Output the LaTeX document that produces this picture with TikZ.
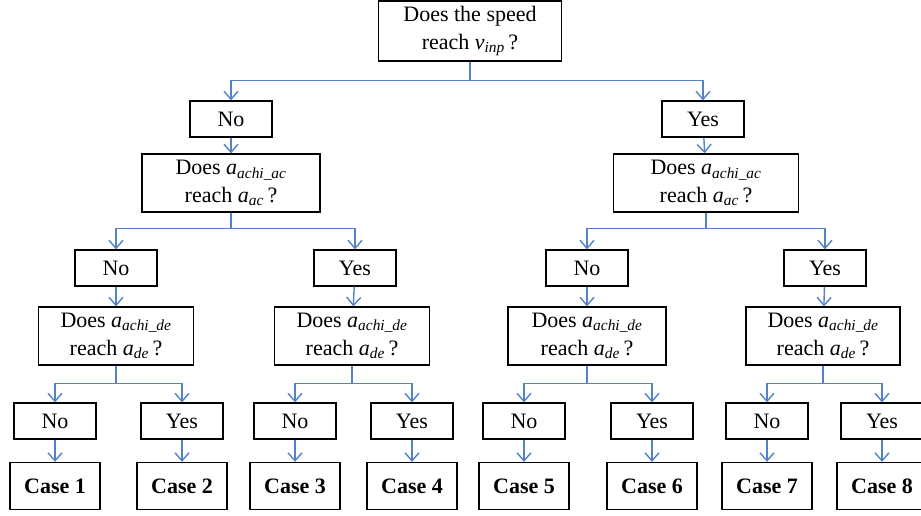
\documentclass[tikz,border=0pt]{standalone}
\usepackage{fontspec}
\setmainfont{Liberation Serif}
\usetikzlibrary{arrows.meta}
\definecolor{linkblue}{RGB}{84,130,200}
\newcommand{\sym}[2]{\textit{#1}\textsubscript{\textit{#2}}}
\begin{document}
\begin{tikzpicture}[x=1pt,y=-1pt,
        box/.style={draw,line width=1.3pt,align=center,inner sep=0pt,
            font=\fontsize{22}{28}\selectfont},
        qbox/.style={box,minimum width=#1,minimum height=58pt},
        abox/.style={box,minimum width=82pt,minimum height=36pt},
        cbox/.style={box,minimum width=90pt,minimum height=47pt,font=\fontsize{22}{28}\selectfont\bfseries},
        link/.style={linkblue,line width=1.4pt},
        tip/.style={link,-{Straight Barb[length=8pt,width=14pt,line width=1.4pt]}}]
    \useasboundingbox (0,0) rectangle (921,515);
    % root
    \node[qbox=183pt,minimum height=60pt] (q0) at (470,31) {Does the speed\\reach \sym{v}{inp}\,?};
    \node[abox] (a-n) at (231,119) {No};
    \node[abox] (a-y) at (703,119) {Yes};
    \draw[link] (q0.south) -- ++(0,19) coordinate (h0);
    \foreach \to in {a-n, a-y}
        \draw[tip] (h0) -| (\to.north);
    % second level
    \node[qbox=178pt] (q-n) at (231,183) {Does \sym{a}{achi\_ac}\\reach \sym{a}{ac}\,?};
    \node[qbox=185pt] (q-y) at (706,183) {Does \sym{a}{achi\_ac}\\reach \sym{a}{ac}\,?};
    \foreach \from/\to in {a-n/q-n, a-y/q-y}
        \draw[tip] (\from) -- (\to);
    \foreach \name/\x/\txt in {nn/116/No, ny/355/Yes, yn/587/No, yy/825/Yes}
        \node[abox] (a-\name) at (\x,268) {\txt};
    \foreach \from/\a/\b in {q-n/nn/ny, q-y/yn/yy} {
        \draw[link] (\from.south) -- ++(0,16) coordinate (h-\from);
        \draw[tip] (h-\from) -| (a-\a.north);
        \draw[tip] (h-\from) -| (a-\b.north);
    }
    % third level
    \foreach \name/\x/\w in {nn/116/155, ny/352/155, yn/587/158, yy/823/154}
        \node[qbox=\w pt] (q-\name) at (\x,336) {Does \sym{a}{achi\_de}\\reach \sym{a}{de}\,?};
    \foreach \name in {nn, ny, yn, yy}
        \draw[tip] (a-\name) -- (q-\name);
    % answers and cases
    \foreach \name/\x/\txt/\c in {1/55/No/1, 2/182/Yes/2, 3/295/No/3, 4/412/Yes/4,
            5/524/No/5, 6/652/Yes/6, 7/767/No/7, 8/882/Yes/8} {
        \node[abox] (b-\name) at (\x,421) {\txt};
        \node[cbox] (c-\name) at (\x,486) {Case \c};
        \draw[tip] (b-\name) -- (c-\name);
    }
    \foreach \from/\a/\b in {nn/1/2, ny/3/4, yn/5/6, yy/7/8} {
        \draw[link] (q-\from.south) -- ++(0,18) coordinate (h-\from);
        \draw[tip] (h-\from) -| (b-\a.north);
        \draw[tip] (h-\from) -| (b-\b.north);
    }
\end{tikzpicture}
\end{document}
